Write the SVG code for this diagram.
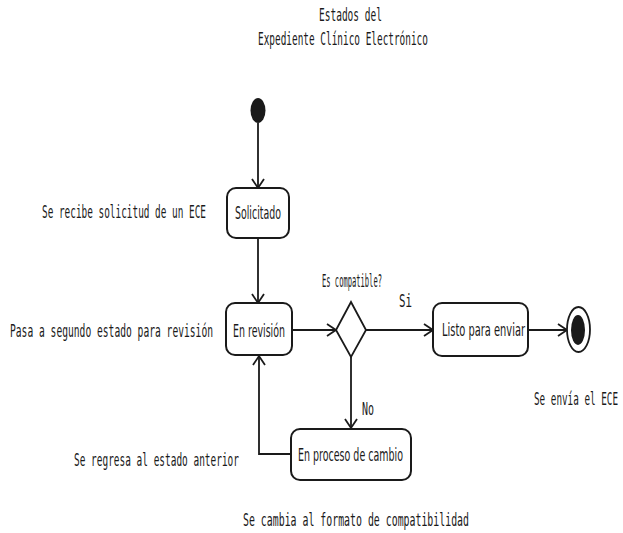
<svg xmlns="http://www.w3.org/2000/svg" width="623" height="533" viewBox="0 0 623 533">
  <style>
    .state { fill: #ffffff; stroke: #1a1a1a; stroke-width: 2; }
    .lbl { font-family: "DejaVu Sans", "Liberation Sans", sans-serif; font-size: 18px; fill: #1a1a1a; }
    .note { font-family: "DejaVu Sans Mono", "Liberation Mono", monospace; font-size: 17px; fill: #1a1a1a; }
    .edge { fill: none; stroke: #1a1a1a; stroke-width: 1.8; marker-end: url(#open); }
  </style>
  <defs>
    <marker id="open" markerUnits="userSpaceOnUse" markerWidth="14" markerHeight="16" refX="10" refY="7" orient="auto">
      <path d="M1,1 L10,7 L1,13" fill="none" stroke="#1a1a1a" stroke-width="1.8"/>
    </marker>
  </defs>
  <rect width="623" height="533" fill="#ffffff"/>

  <!-- narrow lettering: texts are squeezed horizontally to 55% -->
  <g id="title">
    <text class="note" font-size="16" transform="translate(319,21) scale(0.55,1)" textLength="114.5" lengthAdjust="spacingAndGlyphs">Estados del</text>
    <text class="note" font-size="16" transform="translate(258,45) scale(0.55,1)" textLength="309" lengthAdjust="spacingAndGlyphs">Expediente Clínico Electrónico</text>
  </g>

  <g id="connectors">
    <line class="edge" x1="258" y1="123" x2="258" y2="188"/>
    <line class="edge" x1="258" y1="238" x2="258" y2="303"/>
    <line class="edge" x1="292" y1="330" x2="336" y2="330"/>
    <line class="edge" x1="366" y1="330" x2="433" y2="330"/>
    <line class="edge" x1="528" y1="330" x2="567" y2="330"/>
    <line class="edge" x1="351" y1="357" x2="351" y2="428"/>
    <path class="edge" d="M291,454 H259 V356"/>
  </g>

  <g id="start">
    <ellipse cx="258" cy="110.5" rx="7.5" ry="12.5" fill="#1a1a1a"/>
  </g>

  <g id="solicitado">
    <rect class="state" x="227" y="188" width="62" height="50" rx="9"/>
    <text class="lbl" transform="translate(235,219) scale(0.55,1)" textLength="83.6" lengthAdjust="spacingAndGlyphs">Solicitado</text>
  </g>

  <g id="en-revision">
    <rect class="state" x="226" y="303" width="66" height="52" rx="9"/>
    <text class="lbl" transform="translate(233,337) scale(0.55,1)" textLength="94.5" lengthAdjust="spacingAndGlyphs">En revisión</text>
  </g>

  <g id="decision">
    <polygon points="351,302 366,330 351,357 336,330" fill="#ffffff" stroke="#1a1a1a" stroke-width="1.8"/>
  </g>

  <g id="listo">
    <rect class="state" x="433" y="303" width="95" height="53" rx="9"/>
    <text class="lbl" transform="translate(442,336) scale(0.55,1)" textLength="150.9" lengthAdjust="spacingAndGlyphs">Listo para enviar</text>
  </g>

  <g id="end">
    <ellipse cx="578.5" cy="329.5" rx="11.5" ry="22.5" fill="#ffffff" stroke="#1a1a1a" stroke-width="1.8"/>
    <ellipse cx="578" cy="330" rx="7" ry="15" fill="#1a1a1a"/>
  </g>

  <g id="en-proceso">
    <rect class="state" x="291" y="429" width="120" height="51" rx="9"/>
    <text class="lbl" transform="translate(298,461) scale(0.55,1)" textLength="190.9" lengthAdjust="spacingAndGlyphs">En proceso de cambio</text>
  </g>

  <g id="labels">
    <text class="note" font-size="11.5" transform="translate(322,287) scale(0.55,1)" textLength="109" lengthAdjust="spacingAndGlyphs">Es compatible?</text>
    <text class="note" transform="translate(399,307) scale(0.55,1)" textLength="23.6" lengthAdjust="spacingAndGlyphs">Si</text>
    <text class="note" transform="translate(362,415) scale(0.55,1)" textLength="21.8" lengthAdjust="spacingAndGlyphs">No</text>
    <text class="note" transform="translate(42,218) scale(0.55,1)" textLength="298.2" lengthAdjust="spacingAndGlyphs">Se recibe solicitud de un ECE</text>
    <text class="note" transform="translate(10,337) scale(0.55,1)" textLength="369.1" lengthAdjust="spacingAndGlyphs">Pasa a segundo estado para revisión</text>
    <text class="note" transform="translate(534,405) scale(0.55,1)" textLength="152.7" lengthAdjust="spacingAndGlyphs">Se envía el ECE</text>
    <text class="note" transform="translate(74,466) scale(0.55,1)" textLength="300" lengthAdjust="spacingAndGlyphs">Se regresa al estado anterior</text>
    <text class="note" transform="translate(243,526) scale(0.55,1)" textLength="410.9" lengthAdjust="spacingAndGlyphs">Se cambia al formato de compatibilidad</text>
  </g>
</svg>
